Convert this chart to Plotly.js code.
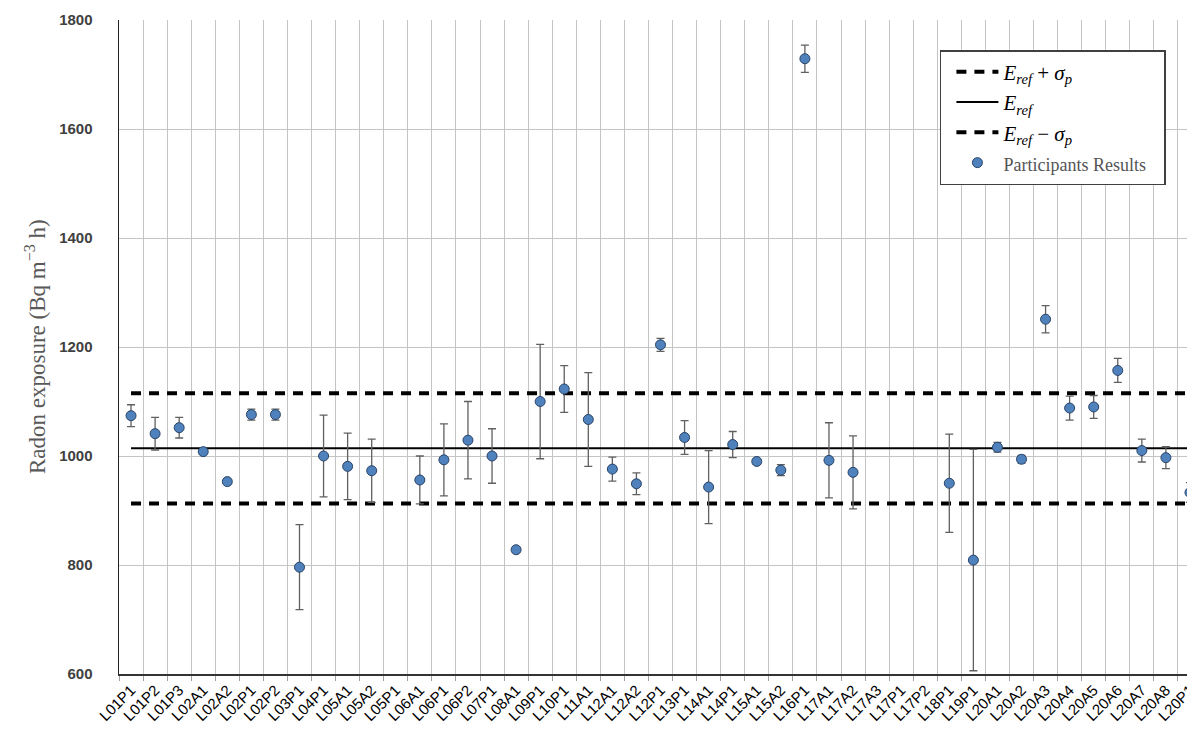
<!DOCTYPE html>
<html>
<head>
<meta charset="utf-8">
<script src="https://cdn.plot.ly/plotly-3.0.1.min.js"></script>
<style>
html, body { margin: 0; padding: 0; overflow: hidden; background: #fff; }
#chart { width: 1220px; height: 732px; }
</style>
</head>
<body>
<div id="chart"></div>
<script>
const categories = ["L01P1","L01P2","L01P3","L02A1","L02A2","L02P1","L02P2","L03P1","L04P1","L05A1","L05A2","L05P1","L06A1","L06P1","L06P2","L07P1","L08A1","L09P1","L10P1","L11A1","L12A1","L12A2","L12P1","L13P1","L14A1","L14P1","L15A1","L15A2","L16P1","L17A1","L17A2","L17A3","L17P1","L17P2","L18P1","L19P1","L20A1","L20A2","L20A3","L20A4","L20A5","L20A6","L20A7","L20A8","L20P1"];
const results = [1074,1041,1052,1008,953,1076,1076,796,1000,981,973,null,956,993,1029,1000,828,1100,1123,1067,976,949,1204,1034,943,1021,990,974,1729,992,970,null,null,null,950,809,1016,994,1251,1088,1090,1157,1010,997,933];
const uncertainties = [20,30,19,0,0,10,10,78,75,61,58,null,44,66,71,50,5,105,43,86,22,20,12,31,67,24,5,10,25,69,67,null,null,null,90,203,9,7,25,22,21,22,21,20,18];
const eRef = 1014;
const sigmaP = 101;
const yTicks = [600,800,1000,1200,1400,1600,1800];
const yTitle = 'Radon exposure (Bq m<sup>−3</sup> h)';

const first = categories[0], last = categories[categories.length-1];
const serif = '"Liberation Serif", "DejaVu Serif", serif';

const traces = [
  {x:[first,last], y:[eRef+sigmaP, eRef+sigmaP], mode:'lines', type:'scatter',
   name:'<i>E<sub>ref</sub></i> + <i>σ<sub>p</sub></i>',
   line:{color:'#000', width:4, dash:'10px,8px'}, hoverinfo:'skip'},
  {x:[first,last], y:[eRef, eRef], mode:'lines', type:'scatter',
   name:'<i>E<sub>ref</sub></i>',
   line:{color:'#000', width:2}, hoverinfo:'skip'},
  {x:[first,last], y:[eRef-sigmaP, eRef-sigmaP], mode:'lines', type:'scatter',
   name:'<i>E<sub>ref</sub></i> − <i>σ<sub>p</sub></i>',
   line:{color:'#000', width:4, dash:'10px,8px'}, hoverinfo:'skip'},
  {x:categories, y:results, mode:'markers', type:'scatter',
   name:'<span style="color:#555;font-size:18px">Participants Results\u00a0\u00a0\u00a0</span>',
   marker:{size:10, color:'#4f81bd', line:{color:'#2a4466', width:1}},
   error_y:{type:'data', array:uncertainties, visible:true, color:'#606060', thickness:1.3, width:4}}
];

const layout = {
  width:1220, height:732,
  margin:{l:119, r:18, t:20, b:58},
  paper_bgcolor:'#fff', plot_bgcolor:'#fff',
  showlegend:true,
  legend:{x:0.758, y:0.954, xanchor:'left', yanchor:'top',
    bgcolor:'#fff', bordercolor:'#404040', borderwidth:1.5,
    indentation:10, itemwidth:42,
    font:{family:serif, size:21, color:'#000'}},
  xaxis:{type:'category', categoryorder:'array', categoryarray:categories,
    range:[-0.5, categories.length-0.5], tickson:'boundaries',
    showgrid:true, gridcolor:'#c4c4c4', gridwidth:1,
    ticks:'outside', ticklen:5, tickcolor:'#a0a0a0',
    showline:true, linecolor:'#333', linewidth:1.5,
    tickangle:-45, tickfont:{family:'"Liberation Sans", Arial, sans-serif', size:15, color:'#000'},
    zeroline:false, fixedrange:true, automargin:false},
  yaxis:{range:[600,1800], tickvals:yTicks, ticktext:yTicks.map(String),
    showgrid:true, gridcolor:'#c4c4c4', gridwidth:1,
    ticks:'outside', ticklen:22, tickcolor:'rgba(0,0,0,0)',
    showline:true, linecolor:'#222', linewidth:1.5,
    tickfont:{family:'"Liberation Sans", Arial, sans-serif', size:15, color:'#404040', weight:'bold'},
    zeroline:false, fixedrange:true, automargin:false},
  annotations:[{text:yTitle, xref:'paper', yref:'paper', x:-84/1083, y:0.5,
    xanchor:'center', yanchor:'middle', textangle:-90, showarrow:false,
    font:{family:serif, size:23, color:'#595959'}}]
};

Plotly.newPlot('chart', traces, layout, {displayModeBar:false, staticPlot:true});
</script>
</body>
</html>
